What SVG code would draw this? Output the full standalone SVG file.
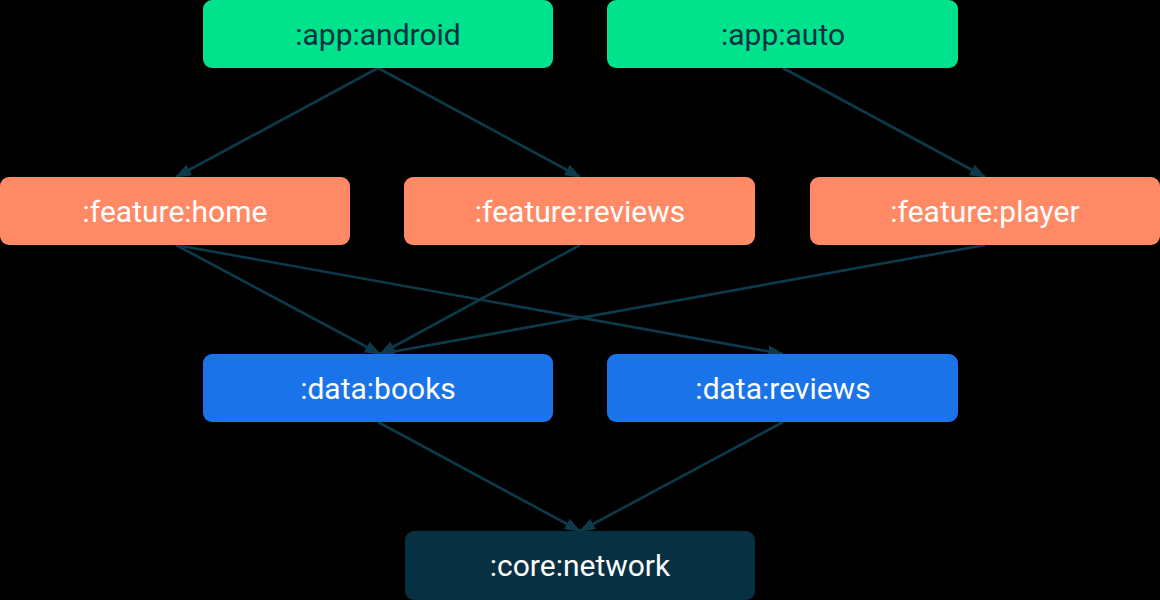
<svg xmlns="http://www.w3.org/2000/svg" width="1160" height="600" viewBox="0 0 1160 600">
<defs>
<style>
.box{rx:9;ry:9}
.app rect{fill:#00E38C}
.feat rect{fill:#FF8A65}
.data rect{fill:#1A73E8}
.core rect{fill:#073042}
text{font-family:Roboto,"Liberation Sans",sans-serif;font-size:30px;text-anchor:middle}
.app text{fill:#073042}
.feat text,.data text,.core text{fill:#ffffff}
#connectors line{stroke:#0D3A4B;stroke-width:2.6;fill:none;marker-end:url(#arrow)}
</style>
<marker id="arrow" markerUnits="userSpaceOnUse" markerWidth="16" markerHeight="12" viewBox="0 0 16 12" refX="15" refY="6" orient="auto">
<path d="M0,0 L16,6 L0,12 z" fill="#0D3A4B"/>
</marker>
</defs>
<rect x="0" y="0" width="1160" height="600" fill="#000000"/>
<g id="connectors">
<line x1="378" y1="68" x2="176" y2="177"/>
<line x1="378" y1="68" x2="580" y2="177"/>
<line x1="783" y1="68" x2="985" y2="177"/>
<line x1="176" y1="245" x2="380" y2="354"/>
<line x1="176" y1="245" x2="783" y2="354"/>
<line x1="580" y1="245" x2="380" y2="354"/>
<line x1="985" y1="245" x2="380" y2="354"/>
<line x1="378" y1="422" x2="580" y2="531"/>
<line x1="783" y1="422" x2="580" y2="531"/>
</g>
<g id="app-android" class="app"><rect class="box" x="203" y="0" width="350" height="68"/><text x="378" y="45">:app:android</text></g>
<g id="app-auto" class="app"><rect class="box" x="607" y="0" width="351" height="68"/><text x="783" y="45">:app:auto</text></g>
<g id="feature-home" class="feat"><rect class="box" x="0" y="177" width="350" height="68"/><text x="175" y="222">:feature:home</text></g>
<g id="feature-reviews" class="feat"><rect class="box" x="404" y="177" width="351" height="68"/><text x="580" y="222">:feature:reviews</text></g>
<g id="feature-player" class="feat"><rect class="box" x="810" y="177" width="350" height="68"/><text x="985" y="222">:feature:player</text></g>
<g id="data-books" class="data"><rect class="box" x="203" y="354" width="350" height="68"/><text x="378" y="399">:data:books</text></g>
<g id="data-reviews" class="data"><rect class="box" x="607" y="354" width="351" height="68"/><text x="783" y="399">:data:reviews</text></g>
<g id="core-network" class="core"><rect class="box" x="405" y="531" width="350" height="69"/><text x="580" y="576">:core:network</text></g>
</svg>
